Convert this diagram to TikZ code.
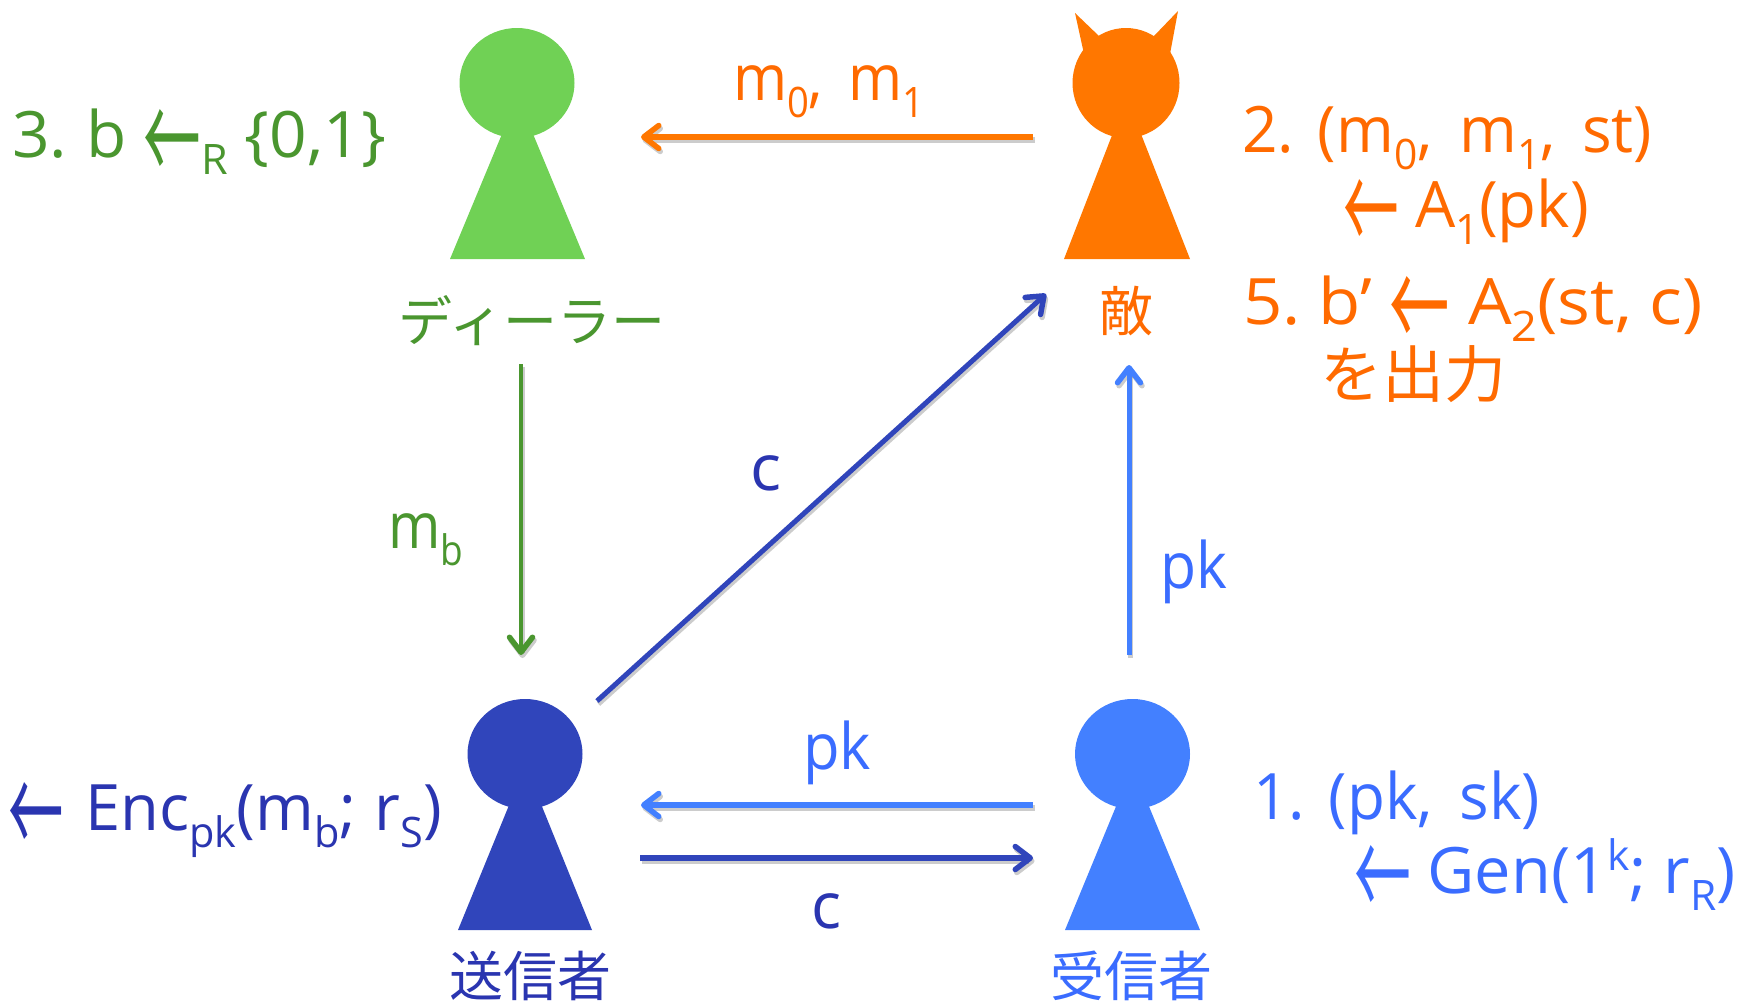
\documentclass[tikz,border=0pt]{standalone}
\usepackage{fontspec}
\usepackage{graphicx}
\setmainfont{Open Sans}
\newfontfamily\jpfont{Noto Sans CJK JP}
\usetikzlibrary{arrows.meta}
\definecolor{dealerfill}{HTML}{70D155}
\definecolor{dealertext}{HTML}{4A962F}
\definecolor{advfill}{HTML}{FF7700}
\definecolor{advtext}{HTML}{FF6A00}
\definecolor{sendfill}{HTML}{3045BB}
\definecolor{sendtext}{HTML}{2A35B0}
\definecolor{recvfill}{HTML}{4380FF}
\definecolor{recvtext}{HTML}{3A6CFF}
\newcommand{\sbs}[1]{\raisebox{-17pt}{\fontsize{42}{42}\selectfont #1}}
\newcommand{\sps}[1]{\raisebox{23pt}{\fontsize{42}{42}\selectfont #1}}
\newcommand{\lar}{{\jpfont\raisebox{-27pt}{\resizebox{56pt}{75pt}{←}}}}
\newcommand{\fitw}[2]{\resizebox{#1pt}{\height}{#2}}
\newcommand{\conn}[4]{%
  \begin{scope}[transform canvas={xshift=1.5pt,yshift=-3pt}]
    \draw[connline,black,opacity=.2,line width=#2pt] (#3) -- (#4);
  \end{scope}
  \draw[connline,#1,line width=#2pt] (#3) -- (#4);}
\tikzset{
  connline/.style={-{Straight Barb[length=15pt,width=23pt,line width=5.5pt,round]}},
  lbl/.style={anchor=base west,inner sep=0pt,outer sep=0pt,font=\fontsize{64}{64}\selectfont},
  jp/.style={anchor=center,inner sep=0pt,outer sep=0pt,font=\jpfont\fontsize{54}{54}\selectfont},
}
\begin{document}
\begin{tikzpicture}[x=1pt,y=-1pt]
\useasboundingbox (0,0) rectangle (1739,1004);
% people
\fill[dealerfill] (517,83) ellipse [x radius=57.5,y radius=55];
\fill[dealerfill] (502,134) -- (533,134) -- (585,259) -- (450,259) -- cycle;
\fill[advfill] (1126,83) ellipse [x radius=53.5,y radius=55];
\fill[advfill] (1112.5,134) -- (1141,134) -- (1190,259) -- (1064,259) -- cycle;
\fill[advfill] (1084,54) -- (1075,13) -- (1100,37) -- (1153,37) -- (1178,11) -- (1170,54) -- cycle;
\fill[sendfill] (525,754) ellipse [x radius=57.5,y radius=55];
\fill[sendfill] (509.5,804) -- (541,804) -- (592,930) -- (458,930) -- cycle;
\fill[recvfill] (1132.5,754) ellipse [x radius=57.5,y radius=55];
\fill[recvfill] (1117,804) -- (1148,804) -- (1200,930) -- (1065,930) -- cycle;
% connector ends
\coordinate (advout) at (1033,137);
\coordinate (dealerin) at (641,137);
\coordinate (dealerout) at (521,364);
\coordinate (sendin) at (521,655);
\coordinate (senddiag) at (597,701);
\coordinate (advdiag) at (1046,294);
\coordinate (recvup) at (1129,655);
\coordinate (advin) at (1129,365);
\coordinate (recvout) at (1033,805);
\coordinate (sendpk) at (641,805);
\coordinate (sendout) at (640,858);
\coordinate (recvin) at (1033,858);
% connectors
\conn{advfill}{6}{advout}{dealerin}
\conn{dealertext}{4.5}{dealerout}{sendin}
\conn{sendfill}{5}{senddiag}{advdiag}
\conn{recvfill}{5}{recvup}{advin}
\conn{recvfill}{6}{recvout}{sendpk}
\conn{sendfill}{6}{sendout}{recvin}
% labels
\node[lbl,text=dealertext] (t3) at (12,157) {\fitw{374}{3.\ \hspace{2pt}b \lar\sbs{R} \{0,1\}}};
\node[lbl,text=advtext] (tm) at (733,100) {\fitw{191}{m\sbs{0},\,\ m\sbs{1}}};
\node[lbl,text=advtext] (t2) at (1242,152) {\fitw{410}{2.\ \hspace{8pt}(m\sbs{0},\,\ m\sbs{1},\,\ st)}};
\node[lbl,text=advtext] (t2b) at (1343,227) {\fitw{246}{\lar{} A\sbs{1}(pk)}};
\node[lbl,text=advtext] (t5) at (1243,324) {\fitw{460}{5.\ b’ \lar{} A\sbs{2}(st, c)}};
\node[jp,text=advtext,font=\jpfont\fontsize{62}{62}\selectfont] (t5b) at (1413,374) {を出力};
\node[jp,text=advtext] (adv) at (1126,311) {敵};
\node[jp,text=dealertext] (dealer) at (532,321) {ディーラー};
\node[lbl,text=sendtext] (cd) at (750,490) {\fitw{31}{c}};
\node[lbl,text=dealertext] (mb) at (388,548) {\fitw{75}{m\sbs{b}}};
\node[lbl,text=recvtext] (pkv) at (1160,588) {\fitw{67}{pk}};
\node[lbl,text=recvtext] (pkh) at (803,769) {\fitw{68}{pk}};
\node[lbl,text=sendtext] (ch) at (811,928) {\fitw{30}{c}};
\node[lbl,text=sendtext] (enc) at (8,830) {\fitw{434}{\lar{}\hspace{6pt} Enc\sbs{pk}(m\sbs{b};\hspace{2pt} r\sbs{S})}};
\node[jp,text=sendtext] (send) at (530,976) {送信者};
\node[jp,text=recvtext] (recv) at (1131,976) {受信者};
\node[lbl,text=recvtext] (t1) at (1253,819) {\fitw{287}{1.\ \hspace{8pt}(pk,\, sk)}};
\node[lbl,text=recvtext] (t1b) at (1354,893) {\fitw{382}{\lar{} Gen(1\sps{k}; r\sbs{R})}};
\end{tikzpicture}
\end{document}
